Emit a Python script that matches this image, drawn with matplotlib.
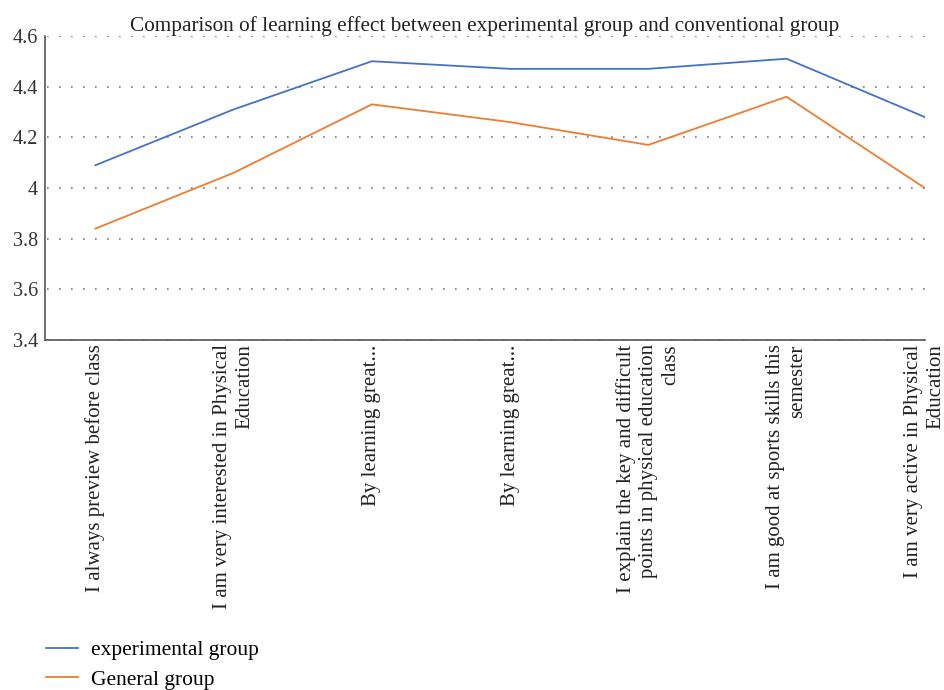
import numpy as np
import matplotlib.pyplot as plt

# Dữ liệu
categories = [
    "I always preview before class",
    "I am very interested in Physical\nEducation",
    "By learning great...",
    "By learning great...",
    "I explain the key and difficult\npoints in physical education\nclass",
    "I am good at sports skills this\nsemester",
    "I am very active in Physical\nEducation",
]
experimental = [4.09, 4.31, 4.50, 4.47, 4.47, 4.51, 4.28]
general = [3.84, 4.06, 4.33, 4.26, 4.17, 4.36, 4.00]
yticks = [3.4, 3.6, 3.8, 4.0, 4.2, 4.4, 4.6]
ytick_labels = ["3.4", "3.6", "3.8", "4", "4.2", "4.4", "4.6"]

plt.rcParams['font.family'] = ['Liberation Serif', 'DejaVu Serif']
plt.rcParams['font.size'] = 15

fig = plt.figure(figsize=(9.45, 6.9), dpi=100)
ax = fig.add_axes([0.0476, 0.507, 0.931, 0.441])

x = np.arange(len(categories))
ax.plot(x, experimental, color='#4472C4', lw=1.3, label='experimental group')
ax.plot(x, general, color='#ED7D31', lw=1.3, label='General group')

ax.set_ylim(3.4, 4.6)
ax.set_xlim(-0.365, 6.0)
ax.set_yticks(yticks)
ax.set_yticklabels(ytick_labels, color='#333333', fontsize=14.5)
ax.set_xticks(x)
ax.set_xticklabels(categories, rotation=90, ha='center', va='top',
                   multialignment='right', color='#222222', linespacing=1.2)
ax.tick_params(axis='x', length=0, pad=3)
ax.tick_params(axis='y', length=0, pad=5)

# Lưới chấm
ax.grid(axis='y', linestyle=(6, (1, 6.2)), color='#777777', lw=1.2)
for s in ['top', 'right']:
    ax.spines[s].set_visible(False)
for s in ['left', 'bottom']:
    ax.spines[s].set_color('#555555')
    ax.spines[s].set_linewidth(1.2)

ax.set_title("Comparison of learning effect between experimental group and conventional group",
             fontsize=15.3, color='#222222', pad=3)

fig.legend(loc='upper left', bbox_to_anchor=(0.028, 0.1), frameon=False,
           handlelength=1.5, labelspacing=0.42, handletextpad=0.6,
           fontsize=15.5, bbox_transform=fig.transFigure)

fig.savefig("out.png", dpi=100)
